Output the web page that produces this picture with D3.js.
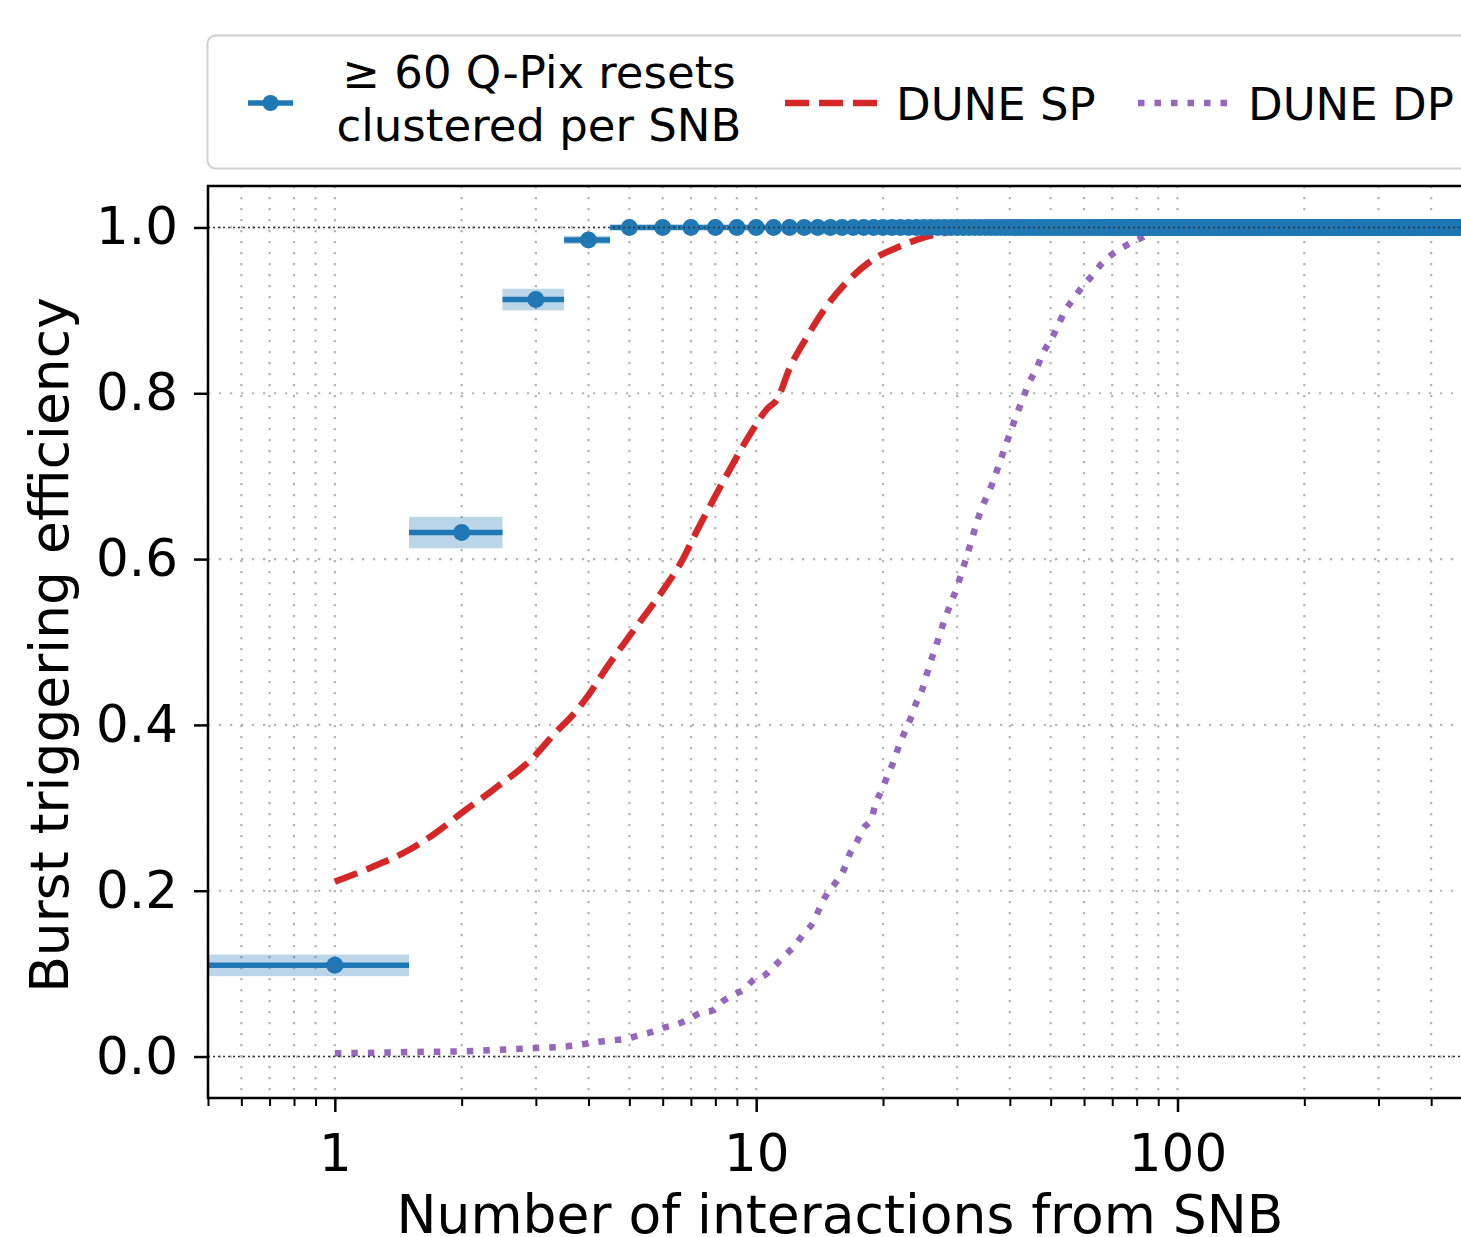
<!DOCTYPE html>
<html>
<head>
<meta charset="utf-8">
<script src="https://cdn.jsdelivr.net/npm/d3@7"></script>
<style>
  body { margin: 0; background: #fff; overflow: hidden; }
  svg { display: block; font-family: 'DejaVu Sans', sans-serif; }
</style>
</head>
<body>
<div id="chart"></div>
<script>
// Q-Pix efficiency for N = 1, 2, 3, ... interactions (one value per integer bin)
const qpixEff = [
  0.110, 0.632, 0.913, 0.985, 1, 1, 1, 1, 1, 1,
  1, 1, 1, 1, 1, 1, 1, 1, 1, 1, 1, 1, 1, 1, 1, 1, 1, 1, 1, 1,
  1, 1, 1, 1, 1, 1, 1, 1, 1, 1, 1, 1, 1, 1, 1, 1, 1, 1, 1, 1,
  1, 1, 1, 1, 1, 1, 1, 1, 1, 1, 1, 1, 1, 1, 1, 1, 1, 1, 1, 1,
  1, 1, 1, 1, 1, 1, 1, 1, 1, 1, 1, 1, 1, 1, 1, 1, 1, 1, 1, 1,
  1, 1, 1, 1, 1, 1, 1, 1, 1, 1, 1, 1, 1, 1, 1, 1, 1, 1, 1, 1,
  1, 1, 1, 1, 1, 1, 1, 1, 1, 1, 1, 1, 1, 1, 1, 1, 1, 1, 1, 1,
  1, 1, 1, 1, 1, 1, 1, 1, 1, 1, 1, 1, 1, 1, 1, 1, 1, 1, 1, 1,
  1, 1, 1, 1, 1, 1, 1, 1, 1, 1, 1, 1, 1, 1, 1, 1, 1, 1, 1, 1,
  1, 1, 1, 1, 1, 1, 1, 1, 1, 1, 1, 1, 1, 1, 1, 1, 1, 1, 1, 1,
  1, 1, 1, 1, 1, 1, 1, 1, 1, 1, 1, 1, 1, 1, 1, 1, 1, 1, 1, 1,
  1, 1, 1, 1, 1, 1, 1, 1, 1, 1, 1, 1, 1, 1, 1, 1, 1, 1, 1, 1,
  1, 1, 1, 1, 1, 1, 1, 1, 1, 1, 1, 1, 1, 1, 1, 1, 1, 1, 1, 1,
  1, 1, 1, 1, 1, 1, 1, 1, 1, 1, 1, 1, 1, 1, 1, 1, 1, 1, 1, 1,
  1, 1, 1, 1, 1, 1, 1, 1, 1, 1, 1, 1, 1, 1, 1, 1, 1, 1, 1, 1,
  1, 1, 1, 1, 1, 1, 1, 1, 1, 1, 1, 1, 1, 1, 1, 1, 1, 1, 1, 1,
  1, 1, 1, 1, 1, 1, 1, 1, 1, 1, 1, 1, 1, 1, 1, 1, 1, 1, 1, 1,
  1, 1, 1, 1, 1, 1, 1, 1, 1, 1, 1, 1, 1, 1, 1, 1, 1, 1, 1, 1,
  1, 1, 1, 1, 1, 1, 1, 1, 1, 1, 1, 1, 1, 1, 1, 1, 1, 1, 1, 1,
  1, 1, 1, 1, 1, 1, 1, 1, 1, 1, 1, 1, 1, 1, 1, 1, 1, 1, 1, 1,
  1, 1, 1, 1, 1, 1, 1, 1, 1, 1, 1, 1, 1, 1, 1, 1, 1, 1, 1, 1,
  1, 1, 1, 1, 1, 1, 1, 1, 1, 1, 1, 1, 1, 1, 1, 1, 1, 1, 1, 1,
  1, 1, 1, 1, 1, 1, 1, 1, 1, 1, 1, 1, 1, 1, 1, 1, 1, 1, 1, 1,
  1, 1, 1, 1, 1, 1, 1, 1, 1, 1, 1, 1, 1, 1, 1, 1, 1, 1, 1, 1,
  1, 1, 1, 1, 1, 1, 1, 1, 1, 1, 1, 1, 1, 1, 1, 1, 1, 1, 1, 1,
  1, 1, 1, 1, 1, 1, 1, 1, 1, 1
];
// statistical uncertainty on the first bins (rest ~0)
const qpixErr = [0.013, 0.019, 0.013, 0.005];

// DUNE single phase
const spN = [1.0, 1.22, 1.51, 1.75, 2.0, 2.38, 3.0, 3.3, 3.7, 4.0, 4.43, 5.0, 6.0, 6.7, 7.2, 8.0, 8.7,
  9.6, 10.7, 11.2, 12.0, 13.2, 14.7, 16.4, 18.9, 21.9, 25.4, 28.4, 32, 40, 60, 100, 200, 500];
const spEff = [0.211, 0.228, 0.250, 0.271, 0.294, 0.322, 0.364, 0.388, 0.414, 0.436, 0.470, 0.507, 0.562,
  0.600, 0.632, 0.676, 0.710, 0.748, 0.783, 0.792, 0.830, 0.868, 0.905, 0.934, 0.961, 0.977,
  0.989, 0.994, 1.0, 1.0, 1.0, 1.0, 1.0, 1.0];

// DUNE dual phase
const dpN = [1.0, 1.24, 1.52, 2.03, 2.47, 3.01, 3.66, 4.0, 4.4, 4.86, 5.3, 5.69, 6.05, 6.49, 6.93,
  7.4, 7.83, 8.4, 8.96, 9.3, 9.96, 10.4, 11.0, 11.6, 12.4, 13.0, 13.7, 14.2, 14.8, 15.5, 16.2,
  16.7, 17.3, 17.9, 18.8, 19.2, 19.9, 20.5, 21.2, 21.8, 22.5, 23.3, 24.0, 24.8, 25.4, 26.1, 26.8,
  27.5, 28.3, 30, 31.6, 34, 36.4, 38.6, 40.3, 42.9, 44.5, 46.4, 48, 50.4, 52, 54, 56.5, 59.3,
  62.5, 66.5, 71, 76, 82.6, 90, 100, 200, 500];
const dpEff = [0.004, 0.0045, 0.0055, 0.0063, 0.0083, 0.0103, 0.013, 0.016, 0.019, 0.021, 0.026,
  0.030, 0.035, 0.039, 0.045, 0.053, 0.055, 0.068, 0.076, 0.080, 0.094, 0.097, 0.108, 0.120,
  0.135, 0.149, 0.163, 0.181, 0.198, 0.211, 0.227, 0.245, 0.258, 0.274, 0.288, 0.305, 0.322,
  0.339, 0.356, 0.374, 0.391, 0.409, 0.427, 0.443, 0.461, 0.480, 0.497, 0.515, 0.533, 0.567,
  0.603, 0.656, 0.692, 0.729, 0.756, 0.793, 0.813, 0.831, 0.849, 0.867, 0.881, 0.899, 0.913,
  0.928, 0.941, 0.958, 0.970, 0.979, 0.988, 0.998, 1.0, 1.0, 1.0];

const xMajor = [1, 10, 100];
const yTicks = [0, 0.2, 0.4, 0.6, 0.8, 1.0];
const refLines = [0, 1];

const BLUE = '#1f77b4';
const RED = '#d62728';
const PURPLE = '#9467bd';

const W = 1461, H = 1237;
const plotL = 208, plotT = 186, plotR = 1472, plotB = 1098;

const svg = d3.select('#chart').append('svg')
  .attr('width', W)
  .attr('height', H);

const x = d3.scaleLog().domain([0.5, 500]).range([plotL, plotR]);
const y = d3.scaleLinear().domain([-0.05, 1.05]).range([plotB, plotT]);

svg.append('clipPath').attr('id', 'plot')
  .append('rect')
  .attr('x', plotL).attr('y', plotT)
  .attr('width', plotR - plotL).attr('height', plotB - plotT);

const allX = x.ticks();

// grid
const grid = svg.append('g')
  .attr('stroke', '#b4b4b4')
  .attr('stroke-width', 2.2)
  .attr('stroke-dasharray', '2.2,8.8');
grid.selectAll('line.v')
  .data(allX)
  .join('line')
  .attr('class', 'v')
  .attr('x1', d => x(d)).attr('x2', d => x(d))
  .attr('y1', plotT).attr('y2', plotB);
grid.selectAll('line.h')
  .data(yTicks)
  .join('line')
  .attr('class', 'h')
  .attr('x1', plotL).attr('x2', plotR)
  .attr('y1', d => y(d)).attr('y2', d => y(d));

const plot = svg.append('g').attr('clip-path', 'url(#plot)');

const line = d3.line()
  .curve(d3.curveMonotoneX)
  .x(d => x(d[0]))
  .y(d => y(d[1]));

plot.append('path')
  .datum(dpN.map((n, i) => [n, dpEff[i]]))
  .attr('d', line)
  .attr('fill', 'none')
  .attr('stroke', PURPLE)
  .attr('stroke-width', 6.5)
  .attr('stroke-dasharray', '6.5,10');

plot.append('path')
  .datum(spN.map((n, i) => [n, spEff[i]]))
  .attr('d', line)
  .attr('fill', 'none')
  .attr('stroke', RED)
  .attr('stroke-width', 6.5)
  .attr('stroke-dasharray', '24,10');

const qpix = qpixEff.map((eff, i) => ({ n: i + 1, eff, err: qpixErr[i] || 0 }));

// uncertainty boxes
plot.append('g')
  .selectAll('rect')
  .data(qpix.filter(d => d.err > 0))
  .join('rect')
  .attr('x', d => x(d.n - 0.5))
  .attr('width', d => x(d.n + 0.5) - x(d.n - 0.5))
  .attr('y', d => y(d.eff + d.err))
  .attr('height', d => y(d.eff - d.err) - y(d.eff + d.err))
  .attr('fill', BLUE)
  .attr('fill-opacity', 0.3);

// bin-width bars
plot.append('g')
  .attr('stroke', BLUE)
  .attr('stroke-width', 5.5)
  .selectAll('line')
  .data(qpix)
  .join('line')
  .attr('x1', d => x(d.n - 0.5))
  .attr('x2', d => x(d.n + 0.5))
  .attr('y1', d => y(d.eff))
  .attr('y2', d => y(d.eff));

plot.append('g')
  .attr('fill', BLUE)
  .selectAll('circle')
  .data(qpix)
  .join('circle')
  .attr('cx', d => x(d.n))
  .attr('cy', d => y(d.eff))
  .attr('r', 8.5);

// reference lines at 0 and 1
svg.append('g')
  .attr('stroke', '#333')
  .attr('stroke-width', 1.6)
  .attr('stroke-dasharray', '2,3')
  .selectAll('line')
  .data(refLines)
  .join('line')
  .attr('x1', plotL).attr('x2', plotR)
  .attr('y1', d => y(d)).attr('y2', d => y(d));

// axes
const xAxis = svg.append('g')
  .attr('transform', `translate(0,${plotB})`)
  .call(d3.axisBottom(x).tickValues(xMajor).tickFormat(d3.format('d')).tickSize(14).tickPadding(22));
svg.append('g')
  .attr('transform', `translate(0,${plotB})`)
  .call(d3.axisBottom(x).tickValues(allX.filter(d => !xMajor.includes(d))).tickFormat('').tickSize(8))
  .call(g => g.select('.domain').remove())
  .selectAll('line').attr('stroke-width', 2);

const yAxis = svg.append('g')
  .attr('transform', `translate(${plotL},0)`)
  .call(d3.axisLeft(y).tickValues(yTicks).tickFormat(d3.format('.1f')).tickSize(14).tickPadding(16));

[xAxis, yAxis].forEach(g => {
  g.select('.domain').remove();
  g.selectAll('line').attr('stroke-width', 2.5);
  g.selectAll('text')
    .attr('font-size', 51.5)
    .attr('font-family', 'DejaVu Sans')
    .attr('fill', '#000');
});

// frame
svg.append('rect')
  .attr('x', plotL).attr('y', plotT)
  .attr('width', plotR - plotL).attr('height', plotB - plotT)
  .attr('fill', 'none')
  .attr('stroke', '#000')
  .attr('stroke-width', 2.5);

svg.append('text')
  .attr('x', (plotL + plotR) / 2)
  .attr('y', 1233)
  .attr('text-anchor', 'middle')
  .attr('font-size', 53.5)
  .text('Number of interactions from SNB');

svg.append('text')
  .attr('transform', `translate(68,${(plotT + plotB) / 2 + 3}) rotate(-90)`)
  .attr('text-anchor', 'middle')
  .attr('font-size', 53.5)
  .text('Burst triggering efficiency');

// legend
const legend = svg.append('g');
legend.append('rect')
  .attr('x', 207.5).attr('y', 35.5)
  .attr('width', 1265).attr('height', 133)
  .attr('rx', 8)
  .attr('fill', '#fff')
  .attr('stroke', '#d0d0d0')
  .attr('stroke-width', 2);

const ly = 103;
legend.append('line')
  .attr('x1', 248).attr('x2', 293).attr('y1', ly).attr('y2', ly)
  .attr('stroke', BLUE).attr('stroke-width', 5.5);
legend.append('circle')
  .attr('cx', 270.5).attr('cy', ly).attr('r', 8).attr('fill', BLUE);
const qText = legend.append('text')
  .attr('text-anchor', 'middle')
  .attr('font-size', 45);
qText.append('tspan').attr('x', 539).attr('y', 88).text('≥ 60 Q-Pix resets');
qText.append('tspan').attr('x', 539).attr('y', 141).text('clustered per SNB');

legend.append('line')
  .attr('x1', 785).attr('x2', 877).attr('y1', ly).attr('y2', ly)
  .attr('stroke', RED).attr('stroke-width', 6.5)
  .attr('stroke-dasharray', '24,10');
legend.append('text')
  .attr('x', 896).attr('y', 120)
  .attr('font-size', 45)
  .text('DUNE SP');

legend.append('line')
  .attr('x1', 1138).attr('x2', 1228).attr('y1', ly).attr('y2', ly)
  .attr('stroke', PURPLE).attr('stroke-width', 6.5)
  .attr('stroke-dasharray', '6.5,10');
legend.append('text')
  .attr('x', 1248).attr('y', 120)
  .attr('font-size', 45)
  .text('DUNE DP');
</script>
</body>
</html>
